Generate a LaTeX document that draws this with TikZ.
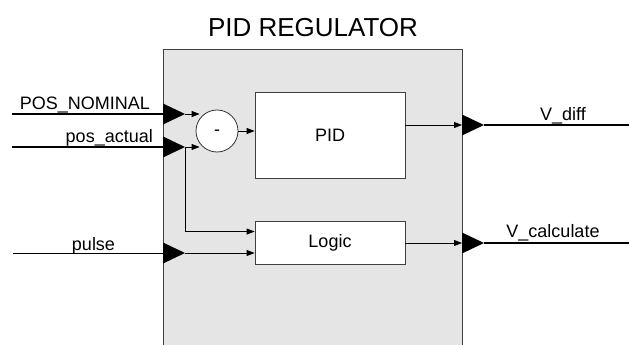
\documentclass[tikz,border=0pt]{standalone}
\usepackage{fontspec}
\setmainfont{Liberation Sans}
\usetikzlibrary{shapes.geometric}
\usetikzlibrary{arrows.meta}
\usetikzlibrary{calc}
\tikzset{
	% block styles: regulator frame, inner blocks and the summing circle
	frame node/.style={rectangle,draw=black!75,fill=black!10,line width=0.8pt},
	block node/.style={rectangle,draw=black!75,fill=white,line width=0.8pt,inner sep=0},
	sum node/.style={circle,draw=black!80,fill=white,line width=0.8pt,minimum size=42pt,inner sep=0,text height=0pt,text depth=0pt},
	% black triangles where signals cross the frame
	port node/.style={isosceles triangle,isosceles triangle stretches,fill=black,inner sep=0,outer sep=0,minimum width=21pt,minimum height=22pt,anchor=west},
	bus/.style={line width=2.6pt},
	wire/.style={line width=0.8pt},
	signal/.style={line width=0.8pt,-{Triangle[length=8pt,width=6pt]}},
	sig text/.style={inner sep=0}
}

\begin{document}
\begin{tikzpicture}[x=1pt,y=-1pt,font=\fontsize{18}{20}\selectfont]
\useasboundingbox (0,0) rectangle (629,345);
\clip (0,0) rectangle (629,345);

% regulator frame (runs off the bottom edge)
\node(frame)[frame node,anchor=north west,minimum width=299pt,minimum height=320pt] at (163,49) {};
\node(title)[font=\fontsize{26}{30}\selectfont,anchor=base] at (313,37) {PID REGULATOR};

% inner blocks
\node(sum)[sum node] at (217,131) {\raisebox{-0.27em}{-}};
\node(pid)[block node,minimum width=150pt,minimum height=86pt] at (330,135) {PID};
\node(logic)[block node,minimum width=150pt,minimum height=43pt] at (330,242.5) {Logic};

% free line ends
\coordinate(nomStart) at (12,114);
\coordinate(actStart) at (12,147);
\coordinate(pulseStart) at (13,253);
\coordinate(diffEnd) at (629,125);
\coordinate(calcEnd) at (629,243);
\coordinate(logicA) at ($(logic.north west)!0.25!(logic.south west)$);

% signal names
\node(nomText)[sig text,anchor=base east] at (150,109) {POS\_NOMINAL};
\node(actText)[sig text,anchor=base east] at (153,142) {pos\_actual};
\node(pulseText)[sig text,anchor=base] at (93.5,250) {pulse};
\node(diffText)[sig text,anchor=base] at (563,120) {V\_diff};
\node(calcText)[sig text,anchor=base] at (553,237) {V\_calculate};

% outside lines
\draw[bus] (nomStart) -- (163,114);
\draw[bus] (actStart) -- (163,147);
\draw[wire] (pulseStart) -- (163,253);

% ports
\node(nomPort)[port node] at (163,114) {};
\node(actPort)[port node] at (163,147) {};
\node(pulsePort)[port node] at (163,253) {};
\node(diffPort)[port node] at (462,125) {};
\node(calcPort)[port node] at (462,243) {};

% inner connections
\draw[signal,shorten >=-4pt] (nomPort.east) -- (nomPort.east -| sum.west);
\draw[signal,shorten >=-4pt] (actPort.east) -- (actPort.east -| sum.west);
\draw[signal] (actPort.east) |- (logicA);
\draw[signal] (pulsePort.east) -- (pulsePort.east -| logic.west);
\draw[signal] (sum.east) -- (sum.east -| pid.west);
\draw[signal] (pid.east |- diffPort) -- (diffPort.west);
\draw[signal] (logic.east |- calcPort) -- (calcPort.west);

% outputs
\draw[bus] (diffPort.east) -- (diffEnd);
\draw[bus] (calcPort.east) -- (calcEnd);

\end{tikzpicture}
\end{document}
